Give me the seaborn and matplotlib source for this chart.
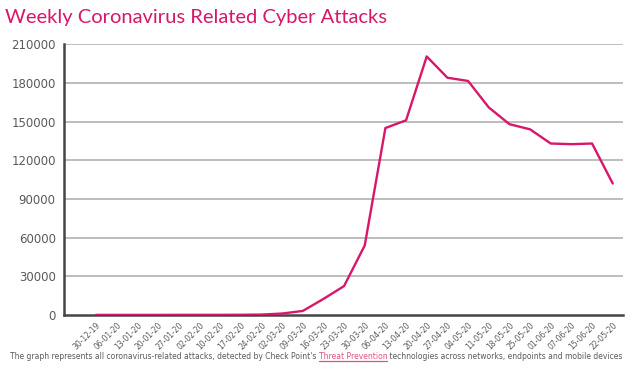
import matplotlib
matplotlib.use("Agg")
import matplotlib.pyplot as plt
from matplotlib import font_manager as fm
import seaborn as sns
import pandas as pd

# weekly counts
weeks = ["30-12-19", "06-01-20", "13-01-20", "20-01-20", "27-01-20", "02-02-20",
         "10-02-20", "17-02-20", "24-02-20", "02-03-20", "09-03-20", "16-03-20",
         "23-03-20", "30-03-20", "06-04-20", "13-04-20", "20-04-20", "27-04-20",
         "04-05-20", "11-05-20", "18-05-20", "25-05-20", "01-06-20", "07-06-20",
         "15-06-20", "22-05-20"]
attacks = [150, 150, 150, 150, 200, 200, 200, 250, 400, 1200, 3200, 12500,
           22500, 54000, 145000, 151000, 200500, 184000, 181500, 161000,
           148000, 144000, 133000, 132500, 133000, 102000]
yticks = [0, 30000, 60000, 90000, 120000, 150000, 180000, 210000]

PINK = "#d8166a"
GREY = "#5a5a5a"

# a narrow face if one is installed
names = {f.name for f in fm.fontManager.ttflist}
NARROW = "Liberation Sans Narrow" if "Liberation Sans Narrow" in names else "DejaVu Sans"
narrow = NARROW != "DejaVu Sans"

sns.set_theme(style="white")
plt.rcParams["font.family"] = [NARROW, "DejaVu Sans"]

df = pd.DataFrame({"idx": range(len(weeks)), "week": weeks, "attacks": attacks})

fig = plt.figure(figsize=(6.37, 3.81), dpi=100)
ax = fig.add_axes([0.1005, 0.173, 0.877, 0.711])

for y in yticks[1:]:
    ax.axhline(y, color="#bdbdbd", lw=1.4, zorder=0)

sns.lineplot(data=df, x="idx", y="attacks", color=PINK, lw=1.7, ax=ax, zorder=3)

ax.set_xlim(-1.55, 25.48)
ax.set_ylim(0, 210000)
ax.set_yticks(yticks)
ax.set_yticklabels([str(v) for v in yticks], fontsize=9.5 if narrow else 8.5,
                   color=GREY)
ax.set_xticks(df["idx"])
ax.set_xticklabels(weeks, rotation=45, ha="right", rotation_mode="anchor",
                   fontsize=6 if narrow else 5.5, color=GREY)
ax.tick_params(axis="both", length=0, pad=6)
ax.tick_params(axis="x", pad=4)
ax.set_xlabel("")
ax.set_ylabel("")

for s in ["top", "right"]:
    ax.spines[s].set_visible(False)
for s in ["left", "bottom"]:
    ax.spines[s].set_color("#454545")
    ax.spines[s].set_linewidth(1.8)

fig.text(0.008, 0.953, "Weekly Coronavirus Related Cyber Attacks", color=PINK,
         fontsize=14.5, ha="left", va="center", family=["Lato", "DejaVu Sans"])

# caption with the pink underlined link, fitted to the figure width
parts = [("The graph represents all coronavirus-related attacks, detected by Check Point's ", GREY),
         ("Threat Prevention", "#e0508a"),
         (" technologies across networks, endpoints and mobile devices", GREY)]
W, H = fig.bbox.width, fig.bbox.height
r = fig.canvas.get_renderer()
span = 560.0 if narrow else 616.0
fs = 8.0
probe = fig.text(0, 0, "".join(p for p, _ in parts), fontsize=fs)
w = probe.get_window_extent(r).width
probe.remove()
fs = fs * span / w
x = 328.0 - span / 2 if narrow else 10.0
base = 1 - 359.0 / H
for txt, col in parts:
    t = fig.text(x / W, base, txt, color=col, fontsize=fs, ha="left", va="baseline")
    bb = t.get_window_extent(r)
    if col != GREY:
        fig.add_artist(plt.Line2D([bb.x0 / W, bb.x1 / W], [base - 1.8 / H] * 2,
                                  color=col, lw=0.9))
    x = bb.x1

fig.savefig("out.png", dpi=100)
